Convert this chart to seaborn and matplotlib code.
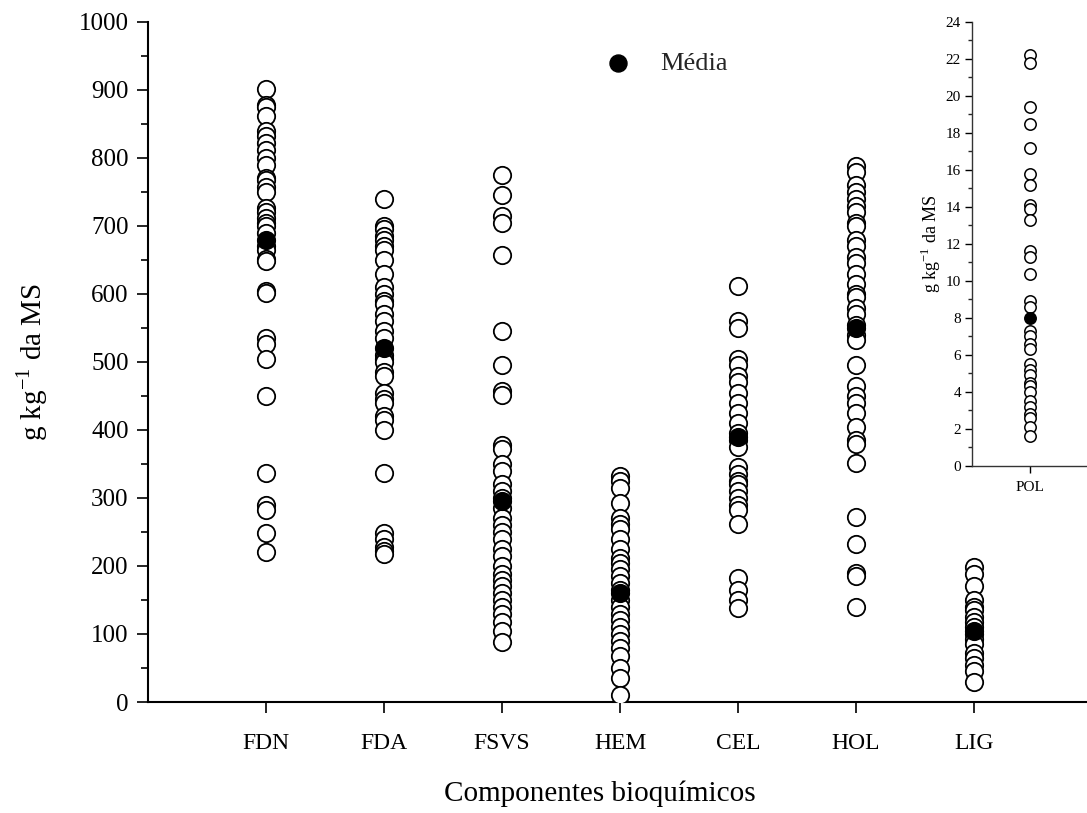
import numpy as np
import pandas as pd
import matplotlib
matplotlib.use("Agg")
import matplotlib.pyplot as plt
import seaborn as sns
from matplotlib.ticker import MultipleLocator

# ---- data (g kg-1 DM) ----
categories = ["FDN", "FDA", "FSVS", "HEM", "CEL", "HOL", "LIG"]
fdn = [902, 878, 875, 862, 840, 833, 822, 812, 800, 790, 770, 768, 757, 750, 727,
       720, 712, 705, 700, 690, 670, 665, 652, 648, 605, 602, 535, 527, 505, 450,
       337, 290, 282, 248, 220]
fda = [740, 700, 695, 685, 680, 670, 665, 650, 630, 610, 600, 590, 585, 570, 560,
       545, 535, 510, 505, 500, 485, 480, 455, 445, 440, 420, 415, 400, 337, 248,
       240, 228, 222, 218]
fsvs = [775, 745, 715, 705, 658, 545, 495, 458, 452, 378, 372, 350, 340, 320, 310,
        300, 285, 270, 260, 250, 240, 225, 215, 200, 188, 180, 170, 160, 150, 140,
        130, 118, 105, 88]
hem = [332, 325, 315, 292, 270, 262, 255, 240, 225, 212, 205, 195, 185, 175, 165,
       150, 140, 130, 120, 110, 100, 90, 80, 68, 50, 35, 10]
cel = [612, 560, 550, 505, 495, 480, 470, 455, 440, 425, 410, 395, 385, 375, 345,
       335, 325, 320, 310, 300, 290, 282, 262, 182, 165, 150, 138]
hol = [788, 780, 760, 750, 740, 730, 720, 705, 700, 680, 670, 655, 645, 630, 615,
       600, 595, 580, 570, 555, 540, 532, 495, 465, 450, 440, 425, 405, 385, 380,
       352, 272, 232, 190, 185, 140]
lig = [198, 188, 170, 150, 140, 135, 125, 118, 110, 100, 92, 85, 72, 65, 55, 45, 30]
means = [680, 520, 296, 160, 390, 550, 105]

pol_cat = ["POL"]
pol = [22.2, 21.8, 19.4, 18.5, 17.2, 15.8, 15.2, 14.1, 13.9, 13.3, 11.6, 11.3, 10.4,
       8.9, 8.6, 7.3, 7.0, 6.6, 6.3, 5.5, 5.2, 4.9, 4.5, 4.3, 4.0, 3.5, 3.2, 2.8,
       2.6, 2.1, 1.6]
pol_mean = [8.0]

series = [fdn, fda, fsvs, hem, cel, hol, lig]
df = pd.DataFrame({
    "comp": np.repeat(categories, [len(s) for s in series]),
    "val": np.concatenate(series),
})
df_mean = pd.DataFrame({"comp": categories, "val": means})
df_pol = pd.DataFrame({"comp": pol_cat * len(pol), "val": pol})
df_pol_mean = pd.DataFrame({"comp": pol_cat, "val": pol_mean})

sns.set_theme(style="ticks")
plt.rcParams["font.family"] = ["Liberation Serif", "DejaVu Serif"]

W, H = 1087, 813
fig = plt.figure(figsize=(W / 100, H / 100), dpi=100)
ax_left = 148
ax = fig.add_axes([ax_left / W, (H - 702) / H, 1 - ax_left / W, 680 / H])

sns.stripplot(data=df, x="comp", y="val", order=categories, jitter=False,
              color="white", edgecolor="black", linewidth=1.3, size=12.5, ax=ax,
              zorder=3)
sns.stripplot(data=df_mean, x="comp", y="val", order=categories, jitter=False,
              color="black", edgecolor="black", linewidth=1.3, size=12.5, ax=ax,
              zorder=4)

# category k sits at pixel 266 + 118*k
ax.set_xlim(-(266 - ax_left) / 118.0, (W - 266) / 118.0)
ax.set_ylim(0, 1000)
ax.yaxis.set_major_locator(MultipleLocator(100))
ax.yaxis.set_minor_locator(MultipleLocator(50))
for s in ["top", "right"]:
    ax.spines[s].set_visible(False)
for s in ["left", "bottom"]:
    ax.spines[s].set_color("black")
    ax.spines[s].set_linewidth(1.5)
ax.tick_params(axis="both", which="major", direction="out", length=8, width=1.2,
               colors="black", labelsize=18, pad=6)
ax.tick_params(axis="y", which="minor", direction="out", length=5, width=1.2,
               colors="black")
ax.tick_params(axis="x", labelsize=17, pad=14)
ax.set_xlabel("Componentes bioquímicos", fontsize=21, color="black")
ax.xaxis.set_label_coords((600 - ax_left) / (W - ax_left), -0.115)
ax.set_ylabel(r"g kg$^{\mathregular{-1}}$ da MS", fontsize=21, color="black")
ax.yaxis.set_label_coords(-(ax_left - 50) / (W - ax_left), 0.5)

# legend
ax.scatter([], [], s=150, color="black", label="Média")
leg = ax.legend(loc="center left",
                bbox_to_anchor=((592 - ax_left) / (W - ax_left), (702 - 63) / 680),
                frameon=False, fontsize=19, handletextpad=0.6, borderpad=0,
                borderaxespad=0)

# inset POL
ax2 = fig.add_axes([972 / W, (H - 466) / H, (W - 972) / W, 444 / H])
sns.stripplot(data=df_pol, x="comp", y="val", jitter=False, color="white",
              edgecolor="black", linewidth=1.1, size=8.2, ax=ax2, zorder=3)
sns.stripplot(data=df_pol_mean, x="comp", y="val", jitter=False, color="black",
              edgecolor="black", linewidth=1.1, size=8.2, ax=ax2, zorder=4)
ax2.set_xlim(-0.5, 0.5)
ax2.set_ylim(0, 24)
ax2.yaxis.set_major_locator(MultipleLocator(2))
ax2.yaxis.set_minor_locator(MultipleLocator(1))
ax2.patch.set_alpha(0)
for s in ["top", "right"]:
    ax2.spines[s].set_visible(False)
for s in ["left", "bottom"]:
    ax2.spines[s].set_color("#333333")
    ax2.spines[s].set_linewidth(1.0)
ax2.tick_params(axis="both", which="major", direction="out", length=5, width=1.0,
                colors="black", labelsize=11, pad=3)
ax2.tick_params(axis="y", which="minor", direction="out", length=3, width=1.0)
ax2.tick_params(axis="x", pad=6)
ax2.set_xlabel("")
ax2.set_ylabel(r"g kg$^{\mathregular{-1}}$ da MS", fontsize=13, labelpad=2,
               color="black")

fig.savefig("out.png", dpi=100)
